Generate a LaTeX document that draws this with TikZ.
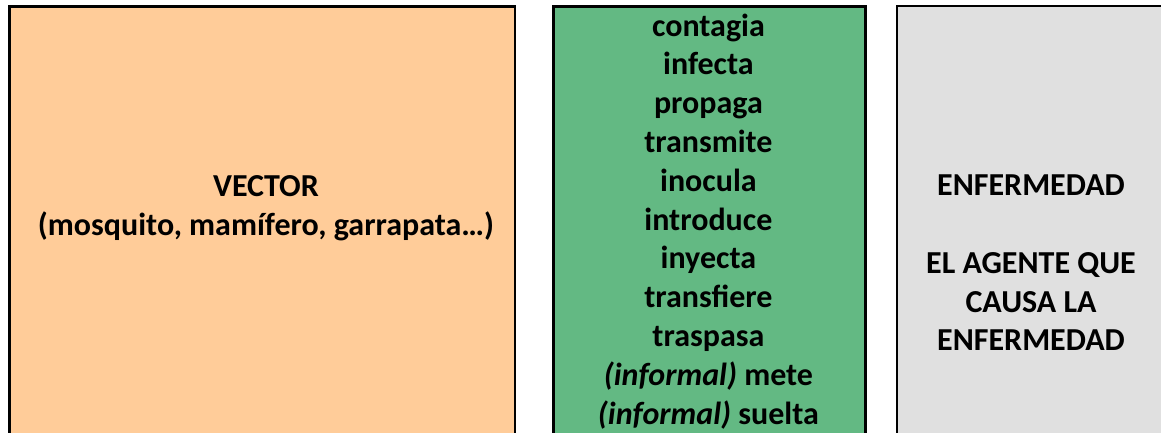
\documentclass[tikz,border=0pt]{standalone}
\usepackage{fontspec}
\setmainfont{Carlito}
\usepackage{tikz}
\usetikzlibrary{positioning}
\definecolor{vectorfill}{RGB}{255,204,153}
\definecolor{verbfill}{RGB}{99,185,131}
\definecolor{agentfill}{RGB}{224,224,224}
\tikzstyle{panel} = [rectangle, anchor=north west, draw=black, line width=2.5pt, minimum height=520pt, inner sep=0pt]
\tikzstyle{paneltext} = [align=center, font=\bfseries\fontsize{32}{38.8}\selectfont, inner sep=0pt]

\begin{document}
\begin{tikzpicture}[x=1pt, y=1pt]

\useasboundingbox (0,0) rectangle (1161,-432);
\clip (0,0) rectangle (1161,-432);

% Panels
\node (vector) [panel, fill=vectorfill, minimum width=505.5pt] at (8,-5.3) {};
\node (verbs) [panel, fill=verbfill, minimum width=311.7pt] at (552.3,-5.3) {};
\node (agent) [panel, fill=agentfill, line width=2pt, minimum width=268pt] at (896,-5) {};

% Texts
\node (vectortext) [paneltext] at ([xshift=4pt, yshift=-203pt]vector.north) {VECTOR\\(mosquito, mamífero, garrapata…)};
\node (verbstext) [paneltext] at ([xshift=-1pt, yshift=-216pt]verbs.north) {contagia\\infecta\\propaga\\transmite\\inocula\\introduce\\inyecta\\transfiere\\traspasa\\\textit{(informal)} mete\\\textit{(informal)} suelta};
\node (agenttext) [paneltext] at ([xshift=0pt, yshift=-258pt]agent.north) {ENFERMEDAD\\[38.8pt]EL AGENTE QUE\\CAUSA LA\\ENFERMEDAD};

\end{tikzpicture}
\end{document}
